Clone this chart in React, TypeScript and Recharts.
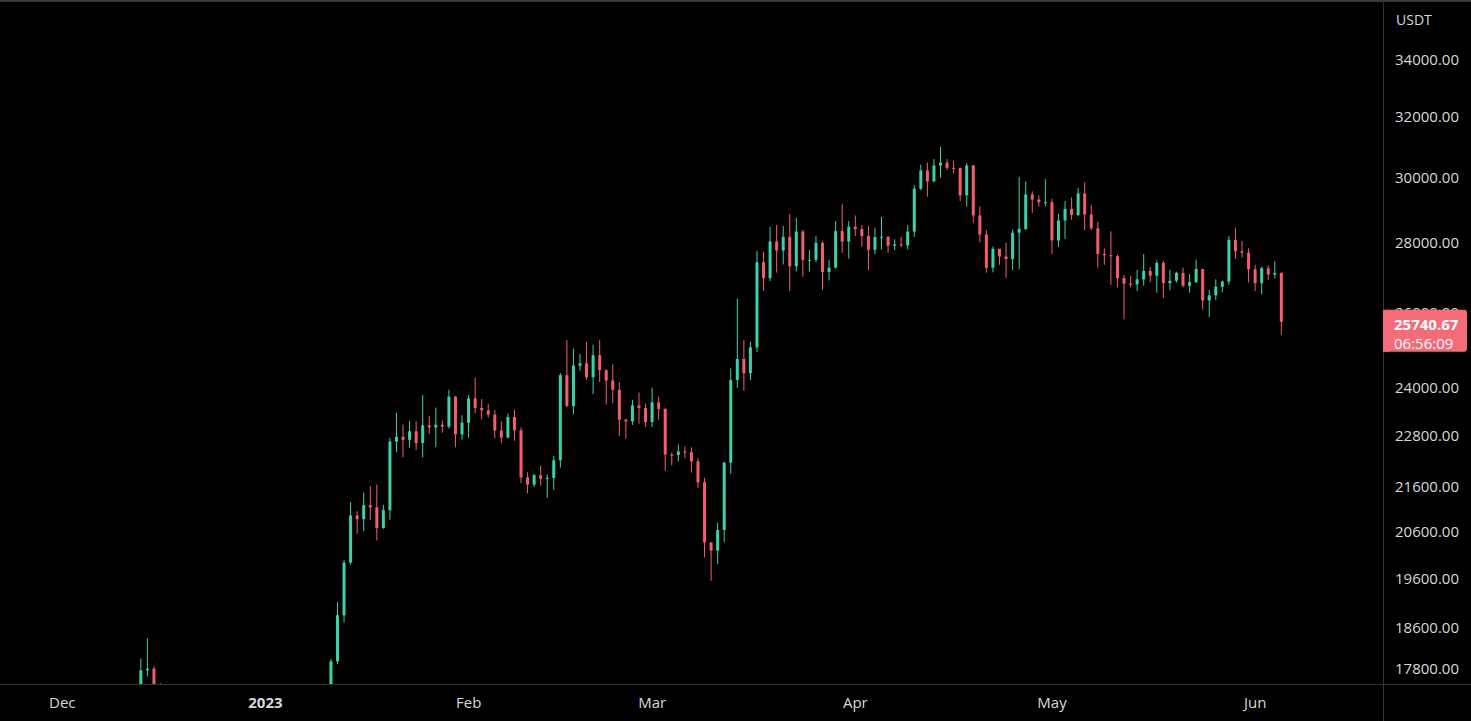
import { ComposedChart, Bar, XAxis, YAxis } from "recharts";

const FONT = '"Open Sans", "Noto Sans", sans-serif';
const UP = "#3bd1aa";
const DOWN = "#f45d6c";
const TEXT = "#d6d8de";
const LINE = "#323232";

// daily candles from 2022-11-22, open = previous close
const firstOpen = 15780;

const closes = [
  // Nov 22-30
  16227, 16600, 16520, 16460, 16430, 16460, 16220, 16440, 17165,
  // Dec
  16980, 17090, 16890, 17110, 16970, 17090, 16840, 17225, 17130, 17130, 17090, 17210, 17775, 17805, 17355, 16630,
  16780, 16740, 16440, 16900, 16820, 16830, 16780, 16840, 16830, 16920, 16700, 16550, 16630, 16600, 16540,
  // Jan
  16615, 16670, 16670, 16850, 16830, 16950, 16940, 17120, 17180, 17440, 17945, 18846, 19930, 20954, 20871, 21185,
  21134, 20677, 21071, 22667, 22783, 22707, 22916, 22632, 23060, 23009, 23074, 23031, 23774, 22840, 23125,
  // Feb
  23732, 23488, 23431, 23326, 22933, 22763, 23264, 22939, 21819, 21651, 21870, 21788, 21808, 22220, 24324, 23541,
  24569, 24631, 24272, 24843, 24452, 24183, 23947, 23199, 23158, 23555, 23492, 23142,
  // Mar
  23629, 23466, 22354, 22346, 22430, 22410, 22197, 21705, 20363, 20187, 20633, 22163, 24197, 24746, 24375, 25052,
  27423, 26965, 28038, 27767, 28175, 27307, 28333, 27493, 27494, 27994, 27139, 27268, 28348, 28033, 28478,
  // Apr
  28411, 28199, 27790, 28169, 28175, 27907, 27947, 27917, 28333, 29653, 30235, 29884, 30391, 30485, 30318, 30316,
  29445, 30397, 28823, 28245, 27262, 27817, 27591, 27514, 28300, 28415, 29472, 29313, 29230, 29233,
  // May
  28068, 28669, 29026, 28838, 29506, 28848, 28431, 27668, 27628, 27598, 26968, 26805, 26784, 26930, 27169, 27033,
  27405, 26821, 26890, 27112, 26747, 26849, 27225, 26334, 26476, 26719, 26868, 28085, 27745, 27702, 27219,
  // Jun
  26819, 27249, 27069, 27115, 25740.67,
];

const highs = [
  16300, 16760, 16810, 16530, 16700, 16600, 16480, 16530, 17250,
  17320, 17110, 17160, 17200, 17425, 17100, 17140, 17300, 17360, 17230, 17270, 17240, 18000, 18387, 17850, 17530,
  16800, 16860, 16820, 17060, 16920, 16870, 16950, 16870, 16860, 16940, 16970, 16780, 16650, 16630, 16640,
  16630, 16760, 16780, 16990, 16880, 17040, 16970, 17180, 17390, 17490, 17990, 19117, 19990, 21258, 21050, 21470,
  21620, 21650, 21190, 22755, 23370, 23080, 23170, 23160, 23816, 23290, 23500, 23180, 23950, 23790, 23310,
  23810, 24255, 23715, 23590, 23440, 23160, 23350, 23450, 23010, 21940, 21900, 22090, 21890, 22322, 24380, 25250,
  25021, 24877, 25190, 25121, 25250, 24480, 24600, 24140, 23220, 23690, 23880, 23600,
  24000, 23780, 23480, 22400, 22600, 22550, 22530, 22270, 21810, 20370, 20792, 22185, 24500, 26386, 25250, 25200,
  27756, 27725, 28474, 28530, 28500, 28868, 28750, 28385, 27790, 28200, 28040, 27500, 28650, 29180, 28650,
  28820, 28530, 28500, 28450, 28775, 28190, 28100, 28170, 28530, 29770, 30423, 30490, 30600, 31000, 30600, 30550,
  30320, 30470, 30410, 29100, 28370, 27880, 27820, 28000, 28400, 30020, 29890, 29570, 29450, 29960,
  29340, 28880, 29270, 29380, 29680, 29850, 29140, 28630, 27830, 28336, 27650, 27060, 27030, 27200, 27663, 27280,
  27480, 27470, 27200, 27150, 27270, 27080, 27500, 27230, 26630, 26930, 26890, 28197, 28447, 28050, 27830,
  27350, 27300, 27330, 27455, 27130,
];

const lows = [
  15530, 16170, 16460, 16340, 16400, 16400, 16000, 16100, 16430,
  16860, 16790, 16860, 16880, 16870, 16900, 16680, 16730, 17060, 17090, 17070, 16870, 17080, 17660, 17275, 16530,
  16580, 16670, 16400, 16400, 16750, 16560, 16760, 16780, 16730, 16790, 16590, 16460, 16490, 16330, 16470,
  16500, 16570, 16600, 16650, 16750, 16680, 16910, 16910, 17100, 17140, 17320, 17890, 18700, 19890, 20550, 20610,
  20850, 20407, 20660, 20860, 22420, 22290, 22520, 22460, 22292, 22850, 22530, 22880, 22980, 22530, 22715,
  22760, 23360, 23204, 23253, 22745, 22628, 22745, 22683, 21688, 21451, 21600, 21630, 21351, 21530, 22047, 23505,
  23340, 24441, 24200, 23840, 24148, 23574, 23610, 22800, 22730, 23070, 23100, 23020,
  23020, 23200, 21971, 22100, 22200, 22270, 21930, 21580, 20042, 19549, 19900, 20366, 21900, 24000, 23921, 24200,
  24930, 26600, 26880, 27125, 27360, 26600, 27160, 27000, 27150, 27420, 26630, 26900, 27240, 27700, 27530,
  28200, 27880, 27200, 27660, 27800, 27700, 27780, 27870, 27800, 28170, 29600, 29400, 29860, 30000, 30250, 30150,
  29270, 29100, 28600, 28010, 27125, 27130, 27350, 26970, 27200, 27222, 28380, 28900, 29090, 29100,
  27660, 27870, 28110, 28690, 28800, 28380, 28380, 27269, 27350, 26777, 26700, 25811, 26700, 26600, 26750, 26850,
  26550, 26400, 26630, 26840, 26700, 26550, 26830, 26080, 25871, 26340, 26560, 26780, 27520, 27560, 26840,
  26600, 26510, 26920, 26960, 25388,
];

const monthTicks = ["2022-12-01", "2023-01-01", "2023-02-01", "2023-03-01", "2023-04-01", "2023-05-01", "2023-06-01"];
const monthLabels = ["Dec", "2023", "Feb", "Mar", "Apr", "May", "Jun"];
const priceTicks = [17800, 18600, 19600, 20600, 21600, 22800, 24000, 26000, 28000, 30000, 32000, 34000];
const lastPrice = 25740.67;
const countdown = "06:56:09";
const totalSlots = 211; // empty days on the right

const pad = (n: number) => String(n).padStart(2, "0");
const dayKey = (i: number) => {
  const d = new Date(Date.UTC(2022, 10, 22 + i));
  return `${d.getUTCFullYear()}-${pad(d.getUTCMonth() + 1)}-${pad(d.getUTCDate())}`;
};

const data = Array.from({ length: totalSlots }, (_, i) => {
  if (i >= closes.length) return { date: dayKey(i) };
  const o = i === 0 ? firstOpen : closes[i - 1];
  const c = closes[i];
  return {
    date: dayKey(i),
    wick: [lows[i], highs[i]],
    body: [Math.min(o, c), Math.max(o, c)],
    up: c >= o,
  };
});

const Wick = (p: any) => {
  if (p.payload?.up === undefined) return null;
  return (
    <rect x={p.x + p.width / 2 - 0.5} y={p.y} width={1} height={Math.max(p.height, 1)} fill={p.payload.up ? UP : DOWN} />
  );
};

const Body = (p: any) => {
  if (p.payload?.up === undefined) return null;
  return <rect x={p.x} y={p.y} width={p.width} height={Math.max(p.height, 1)} fill={p.payload.up ? UP : DOWN} />;
};

const XTick = ({ x, y, payload }: any) => {
  const idx = monthTicks.indexOf(payload.value);
  const label = monthLabels[idx];
  return (
    <text x={x} y={y + 19} dy="0.35em" textAnchor="middle" fill={TEXT} fontSize={15} fontFamily={FONT}
      fontWeight={label === "2023" ? 700 : 400}>
      {label}
    </text>
  );
};

// last tick is the live price tag, drawn after (on top of) the regular ticks
const YTick = ({ x, y, payload }: any) => {
  if (payload.value === lastPrice) {
    return (
      <g>
        <rect x={x} y={y - 12} width={84} height={42} rx={3} fill="#f66b78" />
        <rect x={x} y={y - 12} width={6} height={42} fill="#f66b78" />
        <text x={x + 11} y={y + 3} dy="0.35em" fill="#fff" fontSize={15} fontWeight={700} fontFamily={FONT}>
          {lastPrice.toFixed(2)}
        </text>
        <text x={x + 11} y={y + 22} dy="0.35em" fill="#fff" fontSize={15} fontFamily={FONT}>
          {countdown}
        </text>
      </g>
    );
  }
  return (
    <text x={x + 12} y={y} dy="0.35em" textAnchor="start" fill={TEXT} fontSize={15} fontFamily={FONT}>
      {Number(payload.value).toFixed(2)}
    </text>
  );
};

export default function App() {
  return (
    <div style={{ position: "absolute", left: 0, top: 0, width: 1471, height: 721, background: "#000", overflow: "hidden" }}>
      <div style={{ position: "absolute", left: 0, top: 0, width: 1471, height: 2, background: "#3a3a3a" }} />
      <div style={{ position: "absolute", left: 0, top: 684, width: 1471, height: 1, background: LINE }} />
      <div style={{ position: "absolute", left: 1383, top: 0, width: 1, height: 721, background: LINE }} />
      <div style={{ position: "absolute", left: 1396, top: 10, color: TEXT, fontSize: 14, fontFamily: FONT }}>USDT</div>
      <div style={{ position: "absolute", left: 0, top: 2 }}>
        <ComposedChart width={1471} height={719} data={data} margin={{ top: 0, right: 0, left: 0, bottom: 0 }}
          barCategoryGap="26%">
          <XAxis xAxisId="main" dataKey="date" ticks={monthTicks} interval={0} tick={<XTick />} tickLine={false}
            axisLine={false} tickSize={0} tickMargin={0} height={37} />
          <XAxis xAxisId="wick" dataKey="date" hide />
          <YAxis orientation="right" scale="log" domain={[17518, 36161]} allowDataOverflow
            ticks={[...priceTicks, lastPrice]} interval={0} tick={<YTick />} tickLine={false} axisLine={false}
            tickSize={0} tickMargin={0} width={88} />
          <Bar xAxisId="wick" dataKey="wick" shape={<Wick />} isAnimationActive={false} />
          <Bar xAxisId="main" dataKey="body" shape={<Body />} isAnimationActive={false} />
        </ComposedChart>
      </div>
    </div>
  );
}
